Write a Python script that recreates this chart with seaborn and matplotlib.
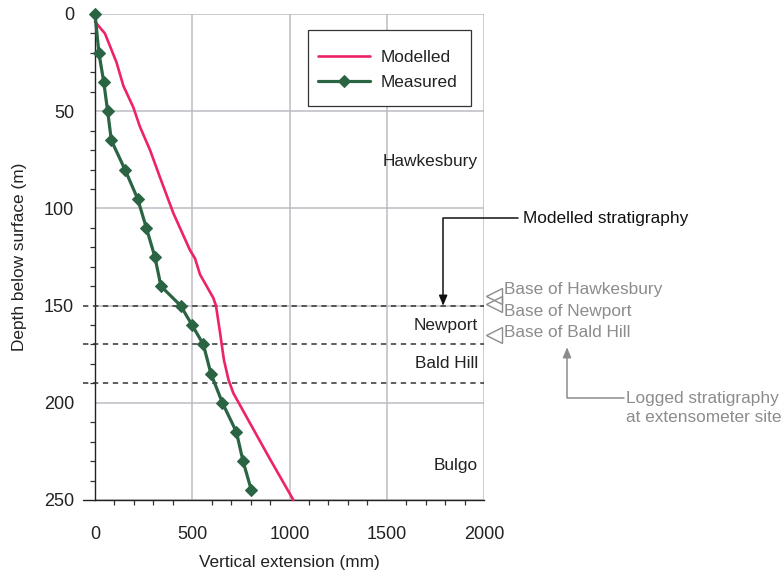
import matplotlib
matplotlib.use("Agg")
import matplotlib.pyplot as plt
import seaborn as sns
import pandas as pd
from matplotlib.ticker import MultipleLocator
from matplotlib.patches import Rectangle

# Measured extension at extensometer anchors
measured_depth = [0, 20, 35, 50, 65, 80, 95, 110, 125, 140, 150, 160, 170, 185, 200, 215, 230, 245]
measured_ext = [0, 20, 45, 65, 84, 154, 219, 264, 308, 339, 440, 499, 557, 596, 655, 727, 761, 804]

# Modelled extension profile
modelled_depth = [4, 10, 25, 37, 48, 58, 70, 84, 102.5, 121.4, 125.7, 134, 146, 150, 164, 178, 188, 195, 210.5, 229, 250]
modelled_ext = [0, 51, 111, 146, 197, 231, 283, 334, 403, 488, 514, 540, 608, 622, 643, 663, 686, 711, 797, 900, 1020]

# Modelled stratigraphic boundaries (m)
model_bases = [150, 170, 190]
unit_names = ["Hawkesbury", "Newport", "Bald Hill", "Bulgo"]
unit_label_depth = [76, 160, 180, 232]

# Logged stratigraphy at extensometer site
logged_names = ["Base of Hawkesbury", "Base of Newport", "Base of Bald Hill"]
logged_depth = [145, 149, 165]
logged_text_depth = [141.5, 152.8, 164]

sns.set_style("white")
plt.rcParams["font.family"] = ["Liberation Sans", "DejaVu Sans"]

FS = 12.4
TICK_FS = 13
RED = "#ee2266"
GREEN = "#2a6443"
GRID = "#bcbcc4"
TXT = "#222222"
GREY = "#8c8c8c"

fig = plt.figure(figsize=(7.82, 5.71), dpi=100)
ax = fig.add_axes([95 / 782, 1 - 500 / 571, 389 / 782, 486 / 571])

df_mod = pd.DataFrame({"ext": modelled_ext, "depth": modelled_depth})
df_mea = pd.DataFrame({"ext": measured_ext, "depth": measured_depth})

sns.lineplot(data=df_mod, x="ext", y="depth", sort=False, color=RED, lw=1.9,
             label="Modelled", ax=ax, zorder=4, clip_on=False)
sns.lineplot(data=df_mea, x="ext", y="depth", sort=False, color=GREEN, lw=2.3,
             marker="D", markersize=6.2, markeredgecolor=GREEN, markerfacecolor=GREEN,
             label="Measured", ax=ax, zorder=5, clip_on=False)

ax.set_xlim(0, 2000)
ax.set_ylim(250, 0)

ax.xaxis.set_major_locator(MultipleLocator(500))
ax.xaxis.set_minor_locator(MultipleLocator(100))
ax.yaxis.set_major_locator(MultipleLocator(50))
ax.yaxis.set_minor_locator(MultipleLocator(10))

ax.grid(True, which="major", color=GRID, lw=1.1, zorder=0)
for side in ["top", "right"]:
    ax.spines[side].set_visible(False)
for side in ["left", "bottom"]:
    ax.spines[side].set_color("#222222")
    ax.spines[side].set_linewidth(1.0)

ax.tick_params(axis="y", which="major", length=9, width=1.1, color=GRID,
               labelsize=TICK_FS, labelcolor=TXT, pad=6)
ax.tick_params(axis="y", which="minor", length=3.5, width=0.9, color="#333333", left=True)
ax.tick_params(axis="x", which="major", length=9, width=1.0, color="#333333",
               labelsize=TICK_FS, labelcolor=TXT, pad=10)
ax.tick_params(axis="x", which="minor", length=3.5, width=0.9, color="#333333", bottom=True)

# bottom spine extends left like a major tick
ax.plot([-62, 0], [250, 250], color="#222222", lw=1.0, clip_on=False, zorder=6)

ax.set_xlabel("Vertical extension (mm)", fontsize=FS, color=TXT, labelpad=8)
ax.set_ylabel("Depth below surface (m)", fontsize=FS, color=TXT, labelpad=12)

# modelled stratigraphy boundaries
for d in model_bases:
    ax.plot([-62, 2000], [d, d], color="#333333", lw=1.1, ls=(0, (3.5, 3)),
            clip_on=False, zorder=3)

for name, d in zip(unit_names, unit_label_depth):
    ax.text(1968, d, name, ha="right", va="center", fontsize=FS, color=TXT)

# legend entries, with a plain rectangular frame around them
leg = ax.legend(loc="center left", bbox_to_anchor=(0.5733, 0.8848), frameon=False,
                fontsize=FS, handlelength=3.0, borderpad=0, labelspacing=0.58,
                handletextpad=0.65, borderaxespad=0)
for t in leg.get_texts():
    t.set_color(TXT)
leg.set_zorder(7)
ax.add_patch(Rectangle((0.5476, 0.8107), 0.9666 - 0.5476, 0.9671 - 0.8107,
                       transform=ax.transAxes, facecolor="white", edgecolor="#333333",
                       lw=0.9, zorder=6))

# annotation: modelled stratigraphy
ax.annotate("", xy=(1790, 150), xytext=(2175, 105), annotation_clip=False,
            arrowprops=dict(arrowstyle="-|>,head_length=0.6,head_width=0.25",
                            connectionstyle="angle,angleA=0,angleB=90,rad=0",
                            color="#111111", lw=1.1, shrinkA=0, shrinkB=0))
ax.text(2200, 105, "Modelled stratigraphy", ha="left", va="center", fontsize=FS,
        color="#111111", clip_on=False)

# logged stratigraphy markers and labels
ax.plot([2049] * len(logged_depth), logged_depth, ls="none", marker="<", markersize=11,
        markerfacecolor="none", markeredgecolor=GREY, markeredgewidth=1.0, clip_on=False)
for name, d in zip(logged_names, logged_text_depth):
    ax.text(2103, d, name, ha="left", va="center", fontsize=FS, color=GREY, clip_on=False)

ax.annotate("", xy=(2427, 171.5), xytext=(2720, 197.5), annotation_clip=False,
            arrowprops=dict(arrowstyle="-|>,head_length=0.6,head_width=0.25",
                            connectionstyle="angle,angleA=0,angleB=90,rad=0",
                            color=GREY, lw=1.1, shrinkA=0, shrinkB=0))
ax.text(2730, 202.6, "Logged stratigraphy\nat extensometer site", ha="left", va="center",
        fontsize=FS, color=GREY, linespacing=1.3, clip_on=False)

fig.savefig("out.png", dpi=100)
